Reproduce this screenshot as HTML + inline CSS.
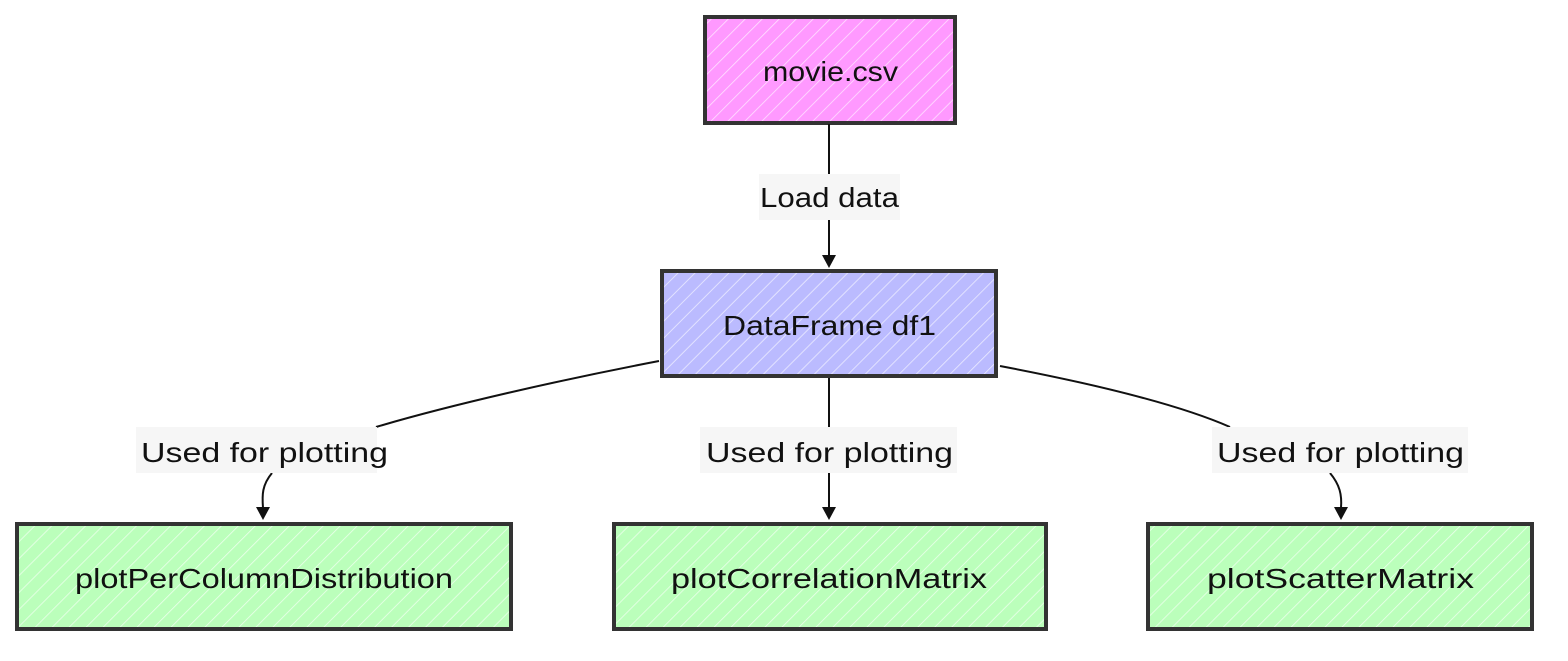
<!DOCTYPE html>
<html><head><style>
html,body{margin:0;padding:0;background:#fff;}
svg text{font-family:"Liberation Sans",sans-serif;font-size:28px;fill:#111;}
</style></head><body>
<svg width="1568" height="656" viewBox="0 0 1568 656" xmlns="http://www.w3.org/2000/svg">
<defs>
<pattern id="hp" width="12" height="12" patternUnits="userSpaceOnUse" patternTransform="rotate(45)"><rect width="12" height="12" fill="#ff99ff"/><line x1="0" y1="0" x2="0" y2="12" stroke="#fff" stroke-width="1.6" opacity="0.7"/></pattern>
<pattern id="hb" width="12" height="12" patternUnits="userSpaceOnUse" patternTransform="rotate(45)"><rect width="12" height="12" fill="#bbbbff"/><line x1="0" y1="0" x2="0" y2="12" stroke="#fff" stroke-width="1.6" opacity="0.7"/></pattern>
<pattern id="hg" width="12" height="12" patternUnits="userSpaceOnUse" patternTransform="rotate(45)"><rect width="12" height="12" fill="#bbffbb"/><line x1="0" y1="0" x2="0" y2="12" stroke="#fff" stroke-width="1.6" opacity="0.7"/></pattern>
</defs>
<g stroke="#333" stroke-width="4">
<rect x="705" y="17" width="250" height="106" fill="url(#hp)"/>
<rect x="662" y="271" width="334" height="105" fill="url(#hb)"/>
<rect x="17" y="524" width="494" height="105" fill="url(#hg)"/>
<rect x="614" y="524" width="432" height="105" fill="url(#hg)"/>
<rect x="1148" y="524" width="384" height="105" fill="url(#hg)"/>
</g>
<g stroke="#111" stroke-width="2" fill="none">
<line x1="829" y1="124" x2="829" y2="174"/>
<path d="M829,220 L829,258"/>
<path d="M659,361 C560,380 450,405 376,427"/>
<path d="M829,378 L829,427"/>
<path d="M1000,366 C1100,385 1180,405 1230,427"/>
<path d="M272,473 C262,485 262,495 263,508"/>
<path d="M829,473 L829,508"/>
<path d="M1330,473 C1340,485 1342,495 1341,508"/>
</g>
<g fill="#111">
<path d="M822,255 L836,255 L829,268 Z"/>
<path d="M256,507 L270,507 L263,520 Z"/>
<path d="M822,507 L836,507 L829,520 Z"/>
<path d="M1334,507 L1348,507 L1341,520 Z"/>
</g>
<g fill="#f6f6f6">
<rect x="759" y="174" width="141" height="46"/>
<rect x="136" y="427" width="241" height="46"/>
<rect x="700" y="427" width="257" height="46"/>
<rect x="1212" y="427" width="256" height="46"/>
</g>
<g>
<text x="763" y="81" textLength="135" lengthAdjust="spacingAndGlyphs">movie.csv</text>
<text x="760" y="207" textLength="139" lengthAdjust="spacingAndGlyphs">Load data</text>
<text x="723" y="335" textLength="213" lengthAdjust="spacingAndGlyphs">DataFrame df1</text>
<text x="141" y="462" textLength="247" lengthAdjust="spacingAndGlyphs">Used for plotting</text>
<text x="706" y="462" textLength="247" lengthAdjust="spacingAndGlyphs">Used for plotting</text>
<text x="1217" y="462" textLength="247" lengthAdjust="spacingAndGlyphs">Used for plotting</text>
<text x="75" y="588" textLength="378" lengthAdjust="spacingAndGlyphs">plotPerColumnDistribution</text>
<text x="671" y="588" textLength="316" lengthAdjust="spacingAndGlyphs">plotCorrelationMatrix</text>
<text x="1207" y="588" textLength="267" lengthAdjust="spacingAndGlyphs">plotScatterMatrix</text>
</g>
</svg>
</body></html>
